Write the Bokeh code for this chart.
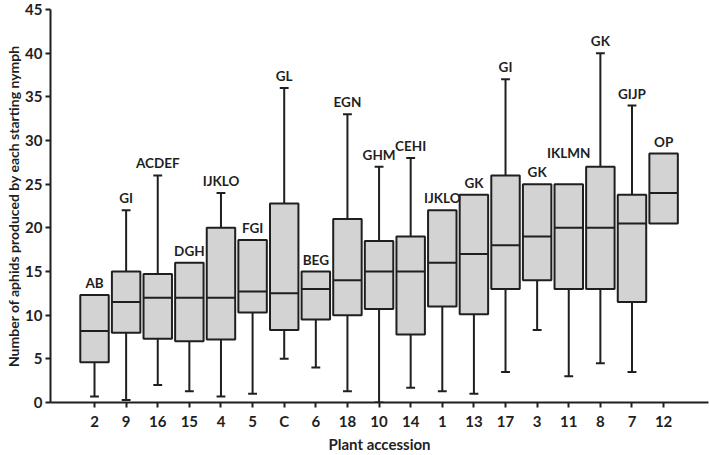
from bokeh.plotting import figure
from bokeh.models import Range1d, FixedTicker, ColumnDataSource
from bokeh.embed import file_html
from bokeh.resources import INLINE
from bokeh.core.properties import value

categories = ["2", "9", "16", "15", "4", "5", "C", "6", "18", "10", "14", "1", "13", "17", "3", "11", "8", "7", "12"]
q1 = [4.6, 8.0, 7.3, 7.0, 7.2, 10.3, 8.3, 9.5, 10.0, 10.7, 7.8, 11.0, 10.1, 13.0, 14.0, 13.0, 13.0, 11.5, 20.5]
median = [8.2, 11.5, 12.0, 12.0, 12.0, 12.7, 12.5, 13.0, 14.0, 15.0, 15.0, 16.0, 17.0, 18.0, 19.0, 20.0, 20.0, 20.5, 24.0]
q3 = [12.3, 15.0, 14.7, 16.0, 20.0, 18.6, 22.8, 15.0, 21.0, 18.5, 19.0, 22.0, 23.8, 26.0, 25.0, 25.0, 27.0, 23.8, 28.5]
lower = [0.7, 0.3, 2.0, 1.3, 0.7, 1.0, 5.0, 4.0, 1.3, 0.0, 1.7, 1.3, 1.0, 3.5, 8.3, 3.0, 4.5, 3.5, 20.5]
upper = [12.3, 22.0, 26.0, 16.0, 24.0, 18.6, 36.0, 15.0, 33.0, 27.0, 28.0, 22.0, 23.8, 37.0, 25.0, 25.0, 40.0, 34.0, 28.5]
letters = ["AB", "GI", "ACDEF", "DGH", "IJKLO", "FGI", "GL", "BEG", "EGN", "GHM", "CEHI", "IJKLO", "GK", "GI", "GK", "IKLMN", "GK", "GIJP", "OP"]
y_ticks = [0, 5, 10, 15, 20, 25, 30, 35, 40, 45]

FONT = "Lato"
INK = "#1f1f1f"
BOX_W = 0.9
CAP_W = 0.28

n = len(categories)
xs = list(range(n))

p = figure(width=709, height=455, output_backend="svg", toolbar_location=None,
           x_range=Range1d(-1.392, 19.42), y_range=Range1d(0, 45),
           min_border_left=50, min_border_right=1, min_border_top=9, min_border_bottom=53)
p.outline_line_color = None
p.xgrid.visible = False
p.ygrid.visible = False
p.background_fill_color = "white"
p.border_fill_color = "white"

# whiskers (only where they extend beyond the box)
lo_idx = [i for i in xs if lower[i] < q1[i]]
hi_idx = [i for i in xs if upper[i] > q3[i]]
p.segment(x0=[xs[i] for i in lo_idx], y0=[q1[i] for i in lo_idx],
          x1=[xs[i] for i in lo_idx], y1=[lower[i] for i in lo_idx],
          line_color=INK, line_width=2)
p.segment(x0=[xs[i] for i in hi_idx], y0=[q3[i] for i in hi_idx],
          x1=[xs[i] for i in hi_idx], y1=[upper[i] for i in hi_idx],
          line_color=INK, line_width=2)
p.segment(x0=[xs[i] - CAP_W / 2 for i in lo_idx], y0=[lower[i] for i in lo_idx],
          x1=[xs[i] + CAP_W / 2 for i in lo_idx], y1=[lower[i] for i in lo_idx],
          line_color=INK, line_width=2)
p.segment(x0=[xs[i] - CAP_W / 2 for i in hi_idx], y0=[upper[i] for i in hi_idx],
          x1=[xs[i] + CAP_W / 2 for i in hi_idx], y1=[upper[i] for i in hi_idx],
          line_color=INK, line_width=2)

# boxes
p.vbar(x=xs, width=BOX_W, bottom=q1, top=q3, fill_color="#d3d3d3",
       line_color=INK, line_width=2)
# medians
p.segment(x0=[x - BOX_W / 2 for x in xs], y0=median,
          x1=[x + BOX_W / 2 for x in xs], y1=median,
          line_color=INK, line_width=2)

# significance letters, lifted when they would collide with the neighbour's label
tops = [max(u, q) for u, q in zip(upper, q3)]
label_y = []
for i, t in enumerate(tops):
    y = t
    if i > 0 and abs(label_y[-1] - y) < 1.0 and len(letters[i]) + len(letters[i - 1]) > 6:
        y = label_y[-1] + 2.2
    label_y.append(y)
src = ColumnDataSource(dict(x=xs, y=label_y, t=letters))
p.text(x="x", y="y", text="t", source=src, y_offset=-12,
       text_align="center", text_baseline="middle",
       text_font=value(FONT), text_font_style="bold",
       text_font_size="13.5px", text_color=INK)

for ax in (p.xaxis, p.yaxis):
    ax.axis_line_width = 2
    ax.axis_line_color = INK
    ax.major_tick_line_width = 2
    ax.major_tick_line_color = INK
    ax.major_tick_in = 0
    ax.major_tick_out = 5
    ax.minor_tick_line_color = None
    ax.major_label_text_font = FONT
    ax.major_label_text_font_style = "bold"
    ax.major_label_text_font_size = "15px"
    ax.major_label_text_color = INK
    ax.axis_label_text_font = FONT
    ax.axis_label_text_font_style = "bold"
    ax.axis_label_text_color = INK

p.xaxis.ticker = FixedTicker(ticks=xs)
p.xaxis.major_label_overrides = {i: c for i, c in enumerate(categories)}
p.xaxis.major_label_standoff = 4
p.xaxis.axis_label = "Plant accession"
p.xaxis.axis_label_text_font_size = "15px"
p.xaxis.axis_label_standoff = 2

p.yaxis.ticker = FixedTicker(ticks=y_ticks)
p.yaxis.major_label_standoff = 3
p.yaxis.axis_label = "Number of aphids produced by each starting nymph"
p.yaxis.axis_label_text_font_size = "14px"
p.yaxis.axis_label_standoff = 0

open("out.html", "w").write(file_html(p, INLINE))
